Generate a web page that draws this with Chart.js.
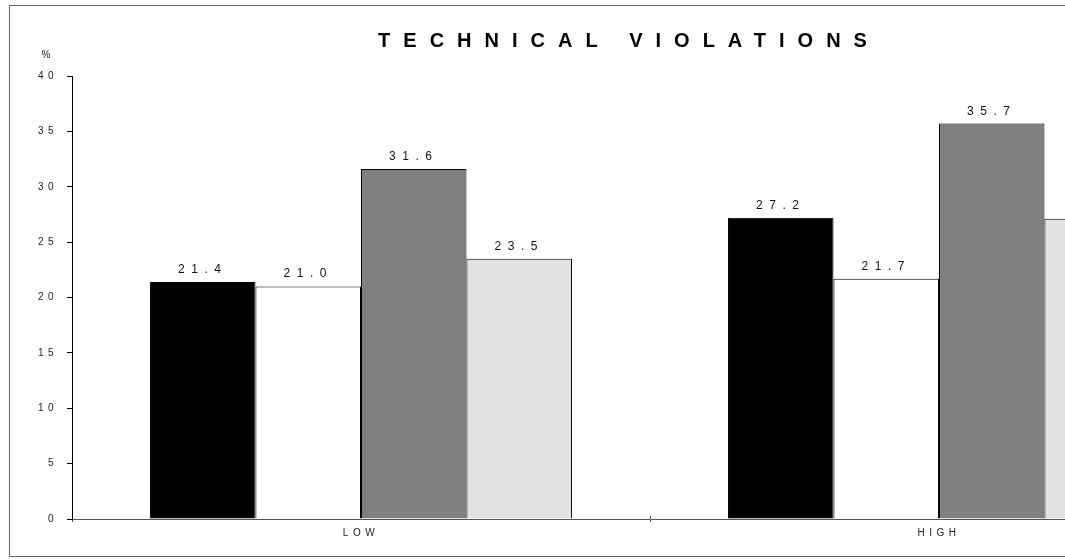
<!DOCTYPE html>
<html>
<head>
<meta charset="utf-8">
<script src="https://cdn.jsdelivr.net/npm/chart.js@4/dist/chart.umd.min.js"></script>
<style>
  html, body { margin: 0; padding: 0; background: #fff; overflow: hidden; width: 1065px; height: 559px; }
  #wrap { position: absolute; left: 0; top: 0; width: 1250px; height: 559px; }
  #frame { position: absolute; left: 9px; top: 5px; width: 1232px; height: 550px; border: 1px solid #666; pointer-events: none; }
  canvas { position: absolute; left: 0; top: 0; }
</style>
</head>
<body>
<div id="wrap">
  <canvas id="chart" width="1250" height="559"></canvas>
  <div id="frame"></div>
</div>
<script>
// Categories and series
const categories = ['LOW', 'HIGH'];
const seriesA = [21.4, 27.2];
const seriesB = [21.0, 21.7];
const seriesC = [31.6, 35.7];
const seriesD = [23.5, 27.1];

// Value axis
const yMin = 0;
const yMax = 40;
const yStep = 5;

const chartTitle = 'TECHNICAL VIOLATIONS';
const unitLabel = '%';

const FONT = '"Liberation Sans", Arial, Helvetica, sans-serif';

// Spaced-out lettering used for axis text
const spacingPlugin = {
  id: 'spacing',
  beforeUpdate(chart) { chart.ctx.letterSpacing = '4.5px'; },
  beforeDraw(chart) { chart.ctx.letterSpacing = '4.5px'; }
};

// Category dividers on the x axis cross the axis line
const dividerPlugin = {
  id: 'dividers',
  afterDraw(chart) {
    const x = chart.scales.x;
    const ctx = chart.ctx;
    ctx.save();
    ctx.strokeStyle = '#444';
    ctx.lineWidth = 1;
    ctx.beginPath();
    for (let i = 1; i < categories.length; i++) {
      const px = Math.round(x.getPixelForValue(i - 0.5)) + 0.5;
      ctx.moveTo(px, x.top - 3);
      ctx.lineTo(px, x.top);
    }
    ctx.stroke();
    ctx.restore();
  }
};

const titlePlugin = {
  id: 'spacedTitle',
  afterDraw(chart) {
    const ctx = chart.ctx;
    ctx.save();
    ctx.letterSpacing = '13px';
    ctx.font = 'bold 20px ' + FONT;
    ctx.fillStyle = '#000';
    ctx.textAlign = 'center';
    ctx.textBaseline = 'alphabetic';
    ctx.fillText(chartTitle, chart.width / 2 + 4, 47);

    // unit above the value axis
    ctx.letterSpacing = '0px';
    ctx.font = '10px ' + FONT;
    ctx.fillStyle = '#222';
    ctx.fillText(unitLabel, 46, 58);
    ctx.restore();
  }
};

const valueLabelPlugin = {
  id: 'valueLabels',
  afterDatasetsDraw(chart) {
    const ctx = chart.ctx;
    ctx.save();
    ctx.letterSpacing = '6.5px';
    ctx.font = '12px ' + FONT;
    ctx.fillStyle = '#111';
    ctx.textAlign = 'center';
    ctx.textBaseline = 'alphabetic';
    chart.data.datasets.forEach((ds, i) => {
      const meta = chart.getDatasetMeta(i);
      meta.data.forEach((bar, j) => {
        const v = ds.data[j];
        ctx.fillText(v.toFixed(1), bar.x, bar.y - 9);
      });
    });
    ctx.restore();
  }
};

const barStyle = { borderColor: '#000', borderWidth: 1, borderSkipped: 'start' };

new Chart(document.getElementById('chart'), {
  type: 'bar',
  data: {
    labels: categories,
    datasets: [
      Object.assign({ label: 'A', data: seriesA, backgroundColor: '#000000' }, barStyle),
      Object.assign({ label: 'B', data: seriesB, backgroundColor: '#ffffff' }, barStyle),
      Object.assign({ label: 'C', data: seriesC, backgroundColor: '#808080' }, barStyle),
      Object.assign({ label: 'D', data: seriesD, backgroundColor: '#e2e2e2' }, barStyle)
    ]
  },
  options: {
    responsive: false,
    animation: false,
    devicePixelRatio: 1,
    layout: { padding: { top: 76, right: 22, left: 0, bottom: 0 } },
    datasets: { bar: { categoryPercentage: 0.73, barPercentage: 1.0 } },
    plugins: {
      legend: { display: false },
      title: { display: false },
      tooltip: { enabled: false }
    },
    scales: {
      x: {
        type: 'category',
        offset: true,
        grid: {
          offset: true,
          drawOnChartArea: false,
          drawTicks: true,
          tickLength: 3,
          color: '#444',
          lineWidth: 1
        },
        border: { display: true, color: '#555', width: 1 },
        ticks: {
          font: { family: FONT, size: 10 },
          color: '#222',
          padding: 5,
          maxRotation: 0,
          autoSkip: false
        },
        afterFit(scale) { scale.height = 40; }
      },
      y: {
        min: yMin,
        max: yMax,
        grid: {
          drawOnChartArea: false,
          drawTicks: true,
          tickLength: 5,
          color: '#000',
          lineWidth: 1
        },
        border: { display: true, color: '#000', width: 1 },
        ticks: {
          stepSize: yStep,
          font: { family: FONT, size: 10 },
          color: '#222',
          padding: 9
        },
        afterFit(scale) { scale.width = 72; }
      }
    }
  },
  plugins: [spacingPlugin, dividerPlugin, titlePlugin, valueLabelPlugin]
});
</script>
</body>
</html>
